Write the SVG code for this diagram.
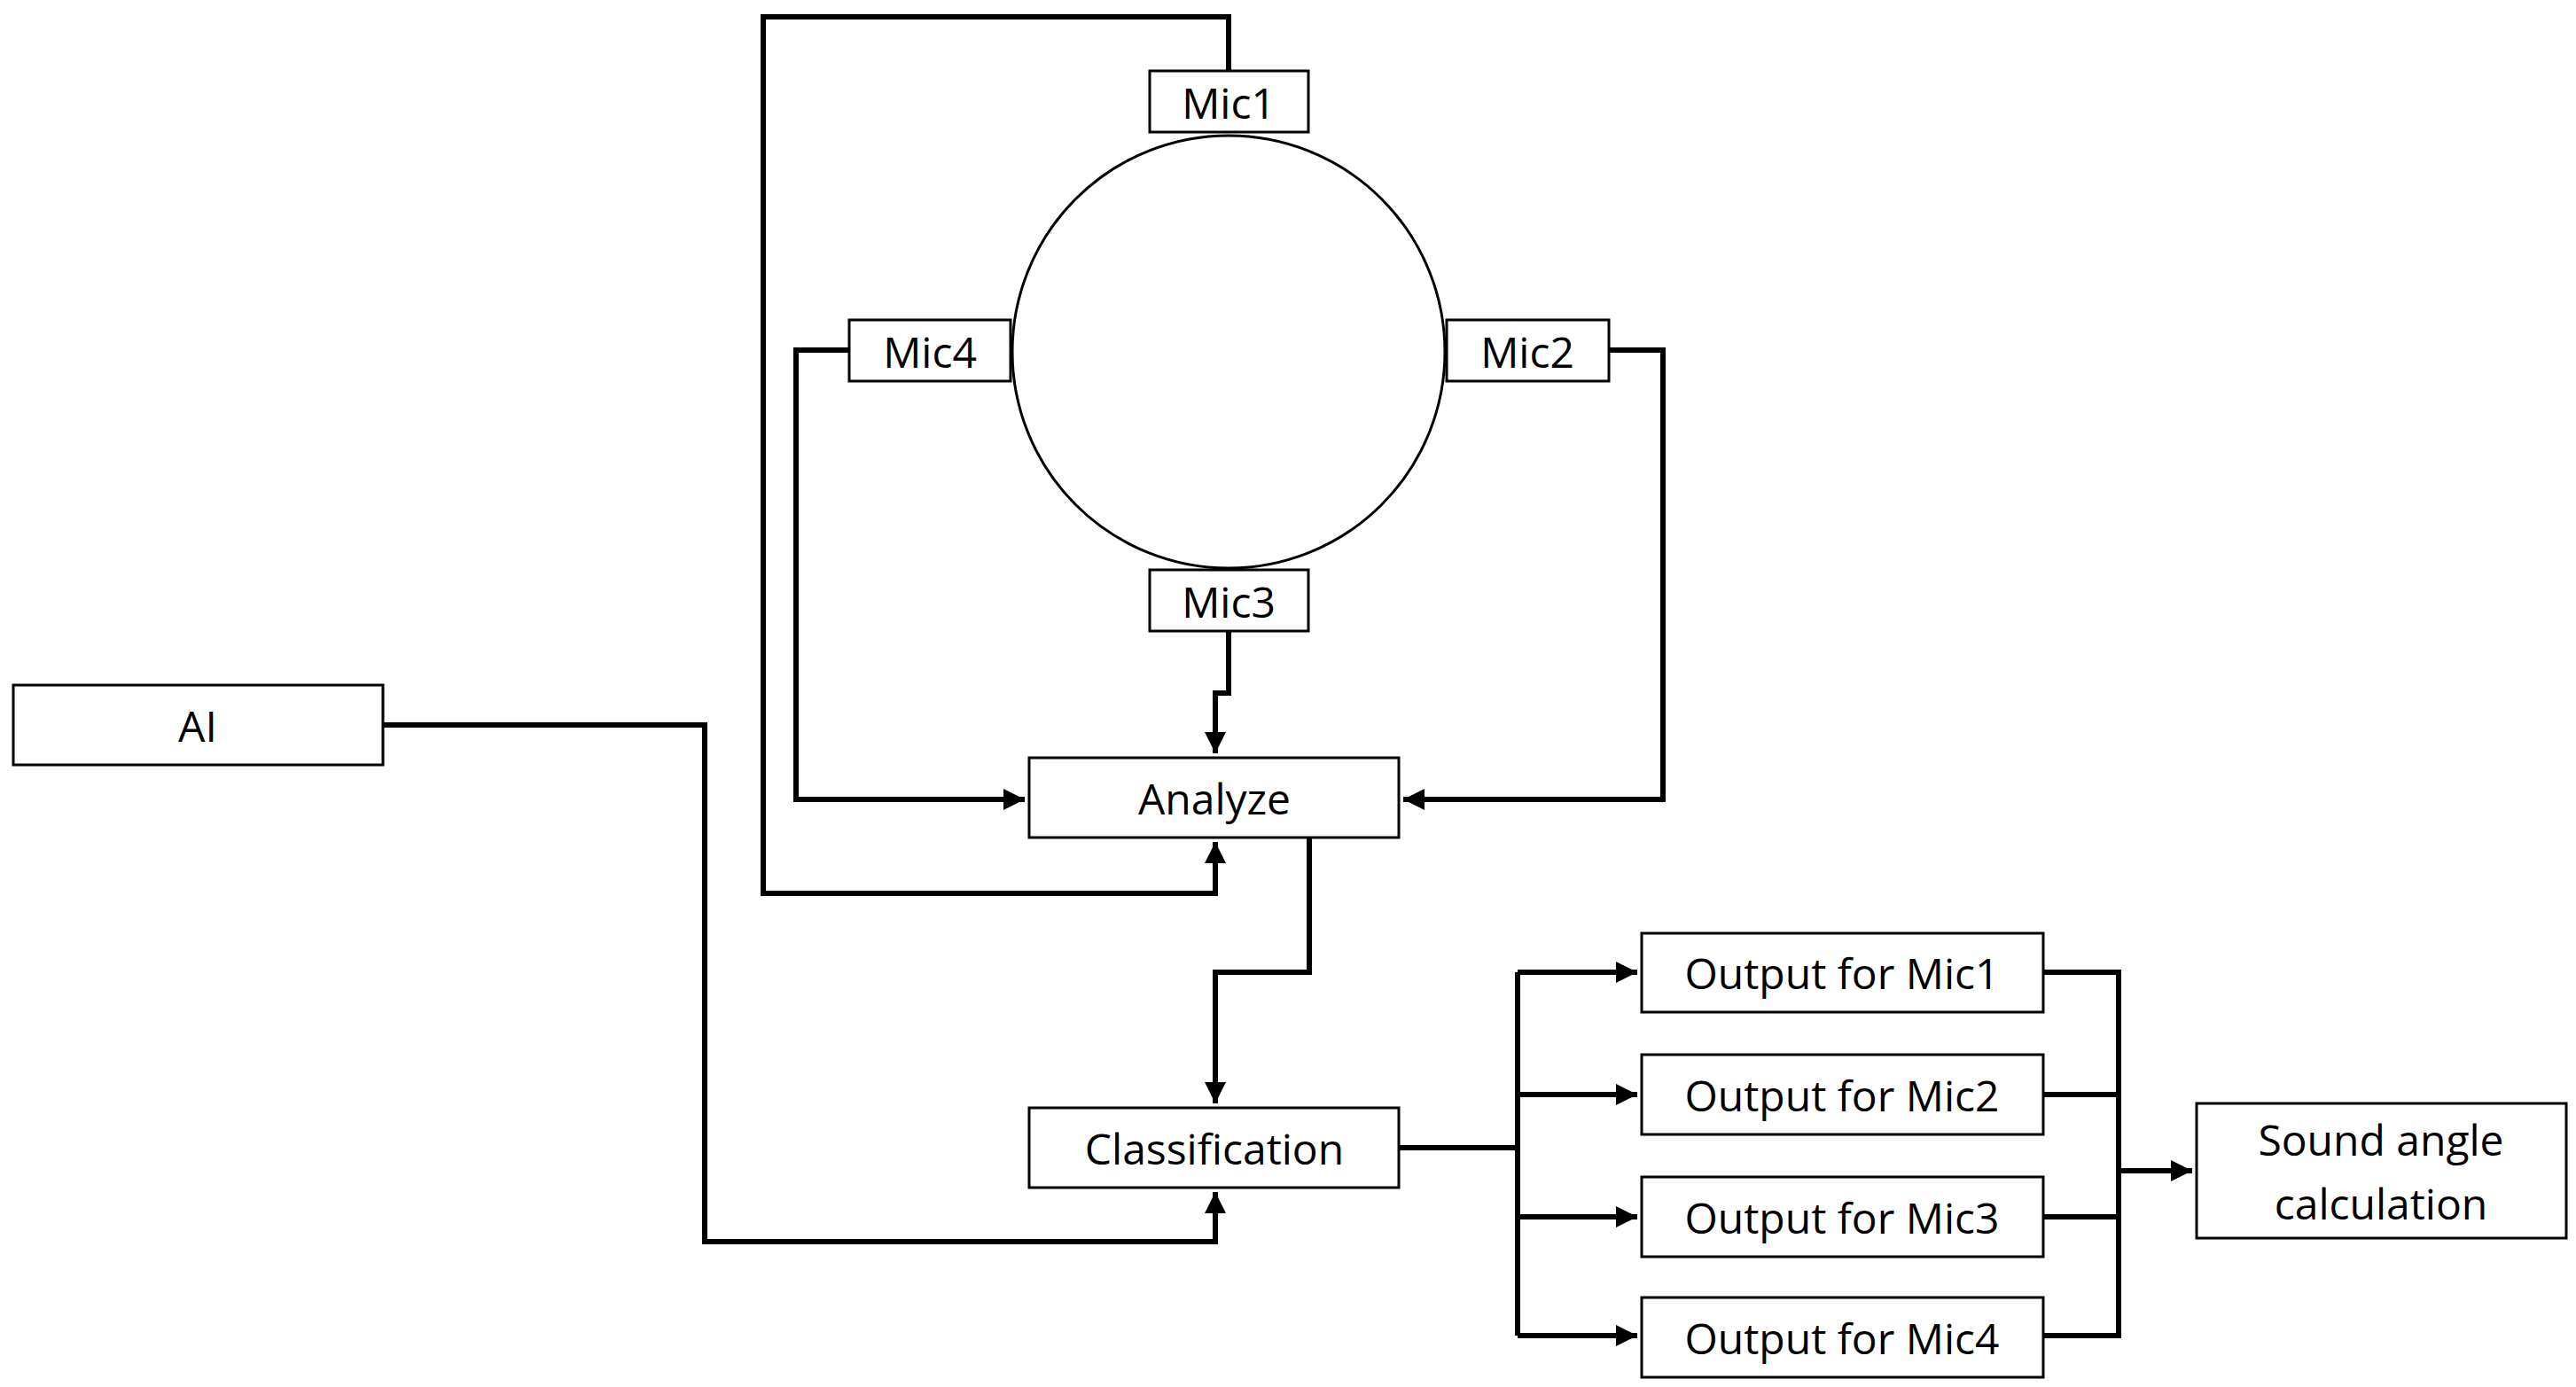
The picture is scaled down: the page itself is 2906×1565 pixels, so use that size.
<svg xmlns="http://www.w3.org/2000/svg" width="2906" height="1565" viewBox="0 0 2906 1565">
<style>
.b{fill:#fff;stroke:#000;stroke-width:3}
.t{font-family:"Open Sans","Liberation Sans",sans-serif;font-size:48px;text-anchor:middle;dominant-baseline:central;fill:#000}
.c{fill:none;stroke:#000;stroke-width:6}
</style>
<defs><marker id="a" viewBox="0 0 10 10" refX="10" refY="5" markerWidth="4" markerHeight="4" orient="auto" markerUnits="strokeWidth"><path d="M0,0L10,5L0,10z"/></marker></defs>
<g id="connectors">
<path class="c" d="M1386,80V19H861V1008H1371V950" marker-end="url(#a)"/>
<path class="c" d="M958,395H898V902H1156" marker-end="url(#a)"/>
<path class="c" d="M1815,395H1876V902H1583" marker-end="url(#a)"/>
<path class="c" d="M1386,712V782H1371V850" marker-end="url(#a)"/>
<path class="c" d="M1477,945V1097H1371V1245" marker-end="url(#a)"/>
<path class="c" d="M432,818H795V1401H1371V1345" marker-end="url(#a)"/>
<path class="c" d="M1578,1295H1712"/>
<path class="c" d="M1712,1097V1507"/>
<path class="c" d="M1712,1097H1847" marker-end="url(#a)"/>
<path class="c" d="M1712,1235H1847" marker-end="url(#a)"/>
<path class="c" d="M1712,1373H1847" marker-end="url(#a)"/>
<path class="c" d="M1712,1507H1847" marker-end="url(#a)"/>
<path class="c" d="M2305,1097H2390V1507H2305M2305,1235H2390M2305,1373H2390"/>
<path class="c" d="M2390,1321H2473" marker-end="url(#a)"/>
</g>
<g id="circle"><circle cx="1386" cy="397" r="244" fill="none" stroke="#000" stroke-width="3"/></g>
<g id="mic1"><rect class="b" x="1297" y="80" width="179" height="69"/><text class="t" x="1386" y="115">Mic1</text></g>
<g id="mic4"><rect class="b" x="958" y="361" width="182" height="69"/><text class="t" x="1049" y="396">Mic4</text></g>
<g id="mic2"><rect class="b" x="1632" y="361" width="183" height="69"/><text class="t" x="1723" y="396">Mic2</text></g>
<g id="mic3"><rect class="b" x="1297" y="643" width="179" height="69"/><text class="t" x="1386" y="678">Mic3</text></g>
<g id="ai"><rect class="b" x="15" y="773" width="417" height="90"/><text class="t" x="223" y="818">AI</text></g>
<g id="analyze"><rect class="b" x="1161" y="855" width="417" height="90"/><text class="t" x="1370" y="900">Analyze</text></g>
<g id="classification"><rect class="b" x="1161" y="1250" width="417" height="90"/><text class="t" x="1370" y="1295">Classification</text></g>
<g id="out1"><rect class="b" x="1852" y="1053" width="453" height="89"/><text class="t" x="2078" y="1097">Output for Mic1</text></g>
<g id="out2"><rect class="b" x="1852" y="1190" width="453" height="90"/><text class="t" x="2078" y="1235">Output for Mic2</text></g>
<g id="out3"><rect class="b" x="1852" y="1328" width="453" height="90"/><text class="t" x="2078" y="1373">Output for Mic3</text></g>
<g id="out4"><rect class="b" x="1852" y="1464" width="453" height="90"/><text class="t" x="2078" y="1509">Output for Mic4</text></g>
<g id="sound"><rect class="b" x="2478" y="1245" width="417" height="152"/><text class="t" x="2686" y="1285">Sound angle</text><text class="t" x="2686" y="1357">calculation</text></g>
</svg>
